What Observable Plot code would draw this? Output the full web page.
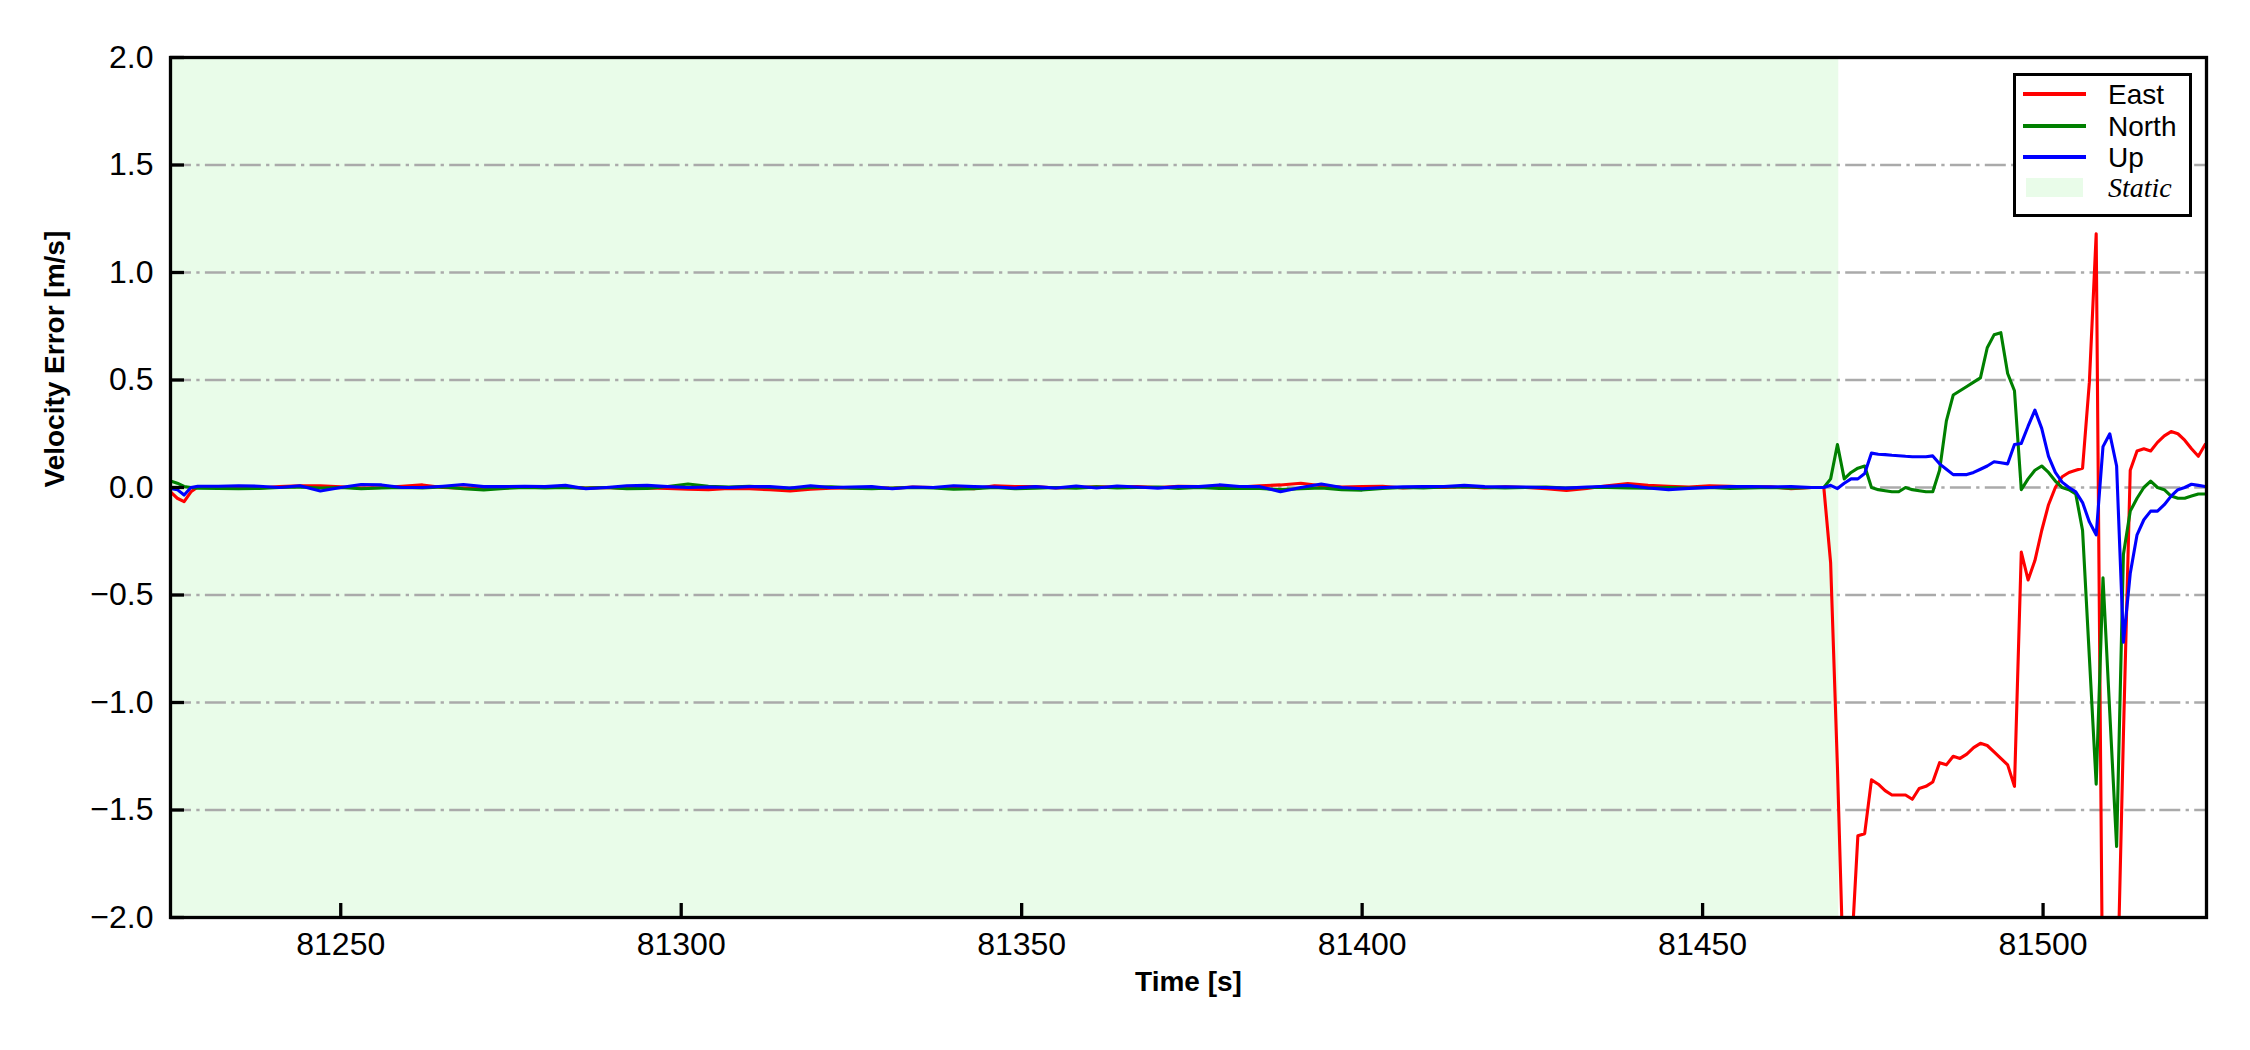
<!DOCTYPE html>
<html>
<head>
<meta charset="utf-8">
<script src="https://cdn.jsdelivr.net/npm/d3@7"></script>
<script src="https://cdn.jsdelivr.net/npm/@observablehq/plot@0.6"></script>
<style>
  html, body { margin: 0; padding: 0; background: #fff; }
  #wrap { position: relative; width: 2250px; height: 1050px; font-family: "Liberation Sans", Arial, sans-serif; }
  #legend { position: absolute; left: 2013px; top: 73px; width: 173px; height: 138px; border: 3px solid #000; background: #fff; }
  .lline { position: absolute; left: 2023px; width: 63px; height: 3.3px; }
  .ltext { position: absolute; left: 2108px; font-size: 28px; line-height: 28px; color: #000; white-space: nowrap; }
  .lpatch { position: absolute; left: 2026px; width: 57px; height: 19px; background: #e9fce9; }
</style>
</head>
<body>
<div id="wrap"></div>
<script>
// ---- data ----
const xDomain = [81225, 81524];
const yDomain = [-2, 2];
const xTicks = [81250, 81300, 81350, 81400, 81450, 81500];
const yTicks = [-2, -1.5, -1, -0.5, 0, 0.5, 1, 1.5, 2];
const gridValues = [-1.5, -1, -0.5, 0, 0.5, 1, 1.5];
const staticStart = 81225;
const staticEnd = 81470;
const seriesNames = ["East", "North", "Up"];
const seriesColors = ["#ff0000", "#008000", "#0000ff"];

const timeStatic = [
  81225, 81226, 81227, 81228, 81229, 81232, 81235, 81238, 81241, 81244,
  81247, 81250, 81253, 81256, 81259, 81262, 81265, 81268, 81271, 81274,
  81277, 81280, 81283, 81286, 81289, 81292, 81295, 81298, 81301, 81304,
  81307, 81310, 81313, 81316, 81319, 81322, 81325, 81328, 81331, 81334,
  81337, 81340, 81343, 81346, 81349, 81352, 81355, 81358, 81361, 81364,
  81367, 81370, 81373, 81376, 81379, 81382, 81385, 81388, 81391, 81394,
  81397, 81400, 81403, 81406, 81409, 81412, 81415, 81418, 81421, 81424,
  81427, 81430, 81433, 81436, 81439, 81442, 81445, 81448, 81451, 81454,
  81457, 81460, 81463, 81466
];
const eastStatic = [
  -0.02, -0.05, -0.066, -0.02, 0.002, 0.003, 0.0, -0.002, 0.004, 0.008,
  0.008, 0.003, -0.002, 0.0, 0.006, 0.012, 0.0, -0.003, -0.004, 0.002,
  0.0, 0.005, 0.002, -0.003, 0.0, -0.004, -0.002, -0.005, -0.008, -0.01,
  -0.004, -0.006, -0.01, -0.016, -0.008, -0.003, -0.002, 0.0, -0.004, 0.002,
  0.0, -0.002, -0.006, 0.008, 0.004, 0.005, -0.002, 0.0, 0.003, 0.002,
  0.004, 0.0, 0.006, 0.004, 0.005, 0.002, 0.008, 0.012, 0.02, 0.008,
  0.002, 0.005, 0.006, -0.002, 0.002, 0.0, 0.004, -0.002, 0.003, 0.0,
  -0.006, -0.014, -0.004, 0.008, 0.018, 0.01, 0.006, 0.002, 0.008, 0.006,
  0.002, 0.003, -0.006, 0.0
];
const northStatic = [
  0.03, 0.02, 0.005, 0.0, -0.003, -0.004, -0.006, -0.004, 0.0, 0.002,
  -0.002, 0.0, -0.006, -0.002, 0.0, -0.002, 0.003, -0.006, -0.011, -0.004,
  0.0, -0.002, 0.0, -0.003, 0.0, -0.006, -0.004, 0.005, 0.016, 0.006,
  0.002, 0.006, 0.0, -0.004, 0.0, 0.003, -0.003, -0.006, -0.002, 0.0,
  -0.002, -0.008, -0.006, 0.0, -0.006, -0.003, 0.0, -0.003, 0.003, -0.002,
  0.0, 0.002, -0.004, 0.0, -0.004, -0.003, -0.005, -0.01, -0.006, -0.002,
  -0.01, -0.012, -0.004, 0.0, -0.002, 0.002, 0.004, 0.0, -0.002, 0.0,
  0.002, -0.003, 0.0, 0.0, -0.002, -0.003, 0.0, -0.002, 0.0, -0.004,
  -0.002, 0.0, -0.003, 0.0
];
const upStatic = [
  -0.005, -0.01, -0.035, 0.0, 0.006, 0.006, 0.008, 0.006, 0.0, 0.008,
  -0.016, 0.0, 0.014, 0.012, 0.0, 0.0, 0.006, 0.014, 0.004, 0.004,
  0.006, 0.004, 0.01, -0.006, 0.0, 0.008, 0.01, 0.004, 0.0, 0.002,
  0.0, 0.004, 0.004, -0.002, 0.008, 0.0, 0.002, 0.004, -0.006, 0.002,
  0.0, 0.008, 0.004, 0.002, -0.002, 0.004, -0.002, 0.007, -0.002, 0.007,
  0.002, -0.003, 0.004, 0.004, 0.012, 0.005, 0.004, -0.02, 0.0, 0.016,
  0.0, -0.006, 0.0, 0.003, 0.004, 0.005, 0.01, 0.004, 0.003, 0.002,
  0.0, -0.003, 0.002, 0.006, 0.01, -0.002, -0.01, -0.004, 0.0, 0.004,
  0.005, 0.003, 0.004, 0.0
];

const timeMotion = [
  81467.8, 81468.8, 81469.8, 81470.8, 81471.8, 81472.8, 81473.8, 81474.8, 81475.8, 81476.8,
  81477.8, 81478.8, 81479.8, 81480.8, 81481.8, 81482.8, 81483.8, 81484.8, 81485.8, 81486.8,
  81487.8, 81488.8, 81489.8, 81490.8, 81491.8, 81492.8, 81493.8, 81494.8, 81495.8, 81496.8,
  81497.8, 81498.8, 81499.8, 81500.8, 81501.8, 81502.8, 81503.8, 81504.8, 81505.8, 81506.8,
  81507.8, 81508.8, 81509.8, 81510.8, 81511.8, 81512.8, 81513.8, 81514.8, 81515.8, 81516.8,
  81517.8, 81518.8, 81519.8, 81520.8, 81521.8, 81522.8, 81523.8
];
const eastMotion = [
  0.0, -0.35, -1.3, -2.4, -2.2, -1.62, -1.61, -1.36, -1.38, -1.41,
  -1.43, -1.43, -1.43, -1.45, -1.40, -1.39, -1.37, -1.28, -1.29, -1.25,
  -1.26, -1.24, -1.21, -1.19, -1.20, -1.23, -1.26, -1.29, -1.39, -0.30,
  -0.43, -0.34, -0.20, -0.08, 0.00, 0.05, 0.07, 0.08, 0.09, 0.49,
  1.18, -2.6, -3.5, -2.5, -1.15, 0.08, 0.17, 0.18, 0.17, 0.21,
  0.24, 0.26, 0.25, 0.22, 0.18, 0.145, 0.20
];
const northMotion = [
  0.0, 0.04, 0.20, 0.04, 0.07, 0.09, 0.10, 0.00, -0.01, -0.015,
  -0.02, -0.02, 0.00, -0.01, -0.015, -0.02, -0.02, 0.08, 0.31, 0.43,
  0.45, 0.47, 0.49, 0.51, 0.65, 0.71, 0.72, 0.53, 0.45, -0.01,
  0.04, 0.08, 0.10, 0.07, 0.03, 0.00, -0.01, -0.03, -0.20, -0.79,
  -1.38, -0.42, -1.05, -1.67, -0.31, -0.11, -0.05, 0.00, 0.03, 0.00,
  -0.01, -0.04, -0.05, -0.05, -0.04, -0.03, -0.03
];
const upMotion = [
  0.0, 0.01, -0.005, 0.02, 0.04, 0.04, 0.065, 0.16, 0.155, 0.153,
  0.15, 0.148, 0.145, 0.143, 0.143, 0.143, 0.147, 0.11, 0.085, 0.06,
  0.06, 0.06, 0.07, 0.085, 0.10, 0.12, 0.115, 0.11, 0.20, 0.205,
  0.285, 0.36, 0.275, 0.145, 0.07, 0.025, 0.0, -0.02, -0.07, -0.16,
  -0.22, 0.19, 0.25, 0.10, -0.72, -0.40, -0.22, -0.15, -0.11, -0.11,
  -0.08, -0.04, -0.01, 0.00, 0.015, 0.01, 0.005
];

// ---- build tables ----
const allTime = timeStatic.concat(timeMotion);
function rows(vals) { return allTime.map((t, i) => ({t, v: vals[i]})); }
const seriesData = [
  rows(eastStatic.concat(eastMotion)),
  rows(northStatic.concat(northMotion)),
  rows(upStatic.concat(upMotion))
];
const staticSpan = [{start: staticStart, end: staticEnd}];

const fontFam = '"Liberation Sans", Arial, sans-serif';
const W = 2250, H = 1050, mL = 170, mR = 44, mT = 57, mB = 133;
const tickLen = 14;
const frameW = W - mL - mR, frameH = H - mT - mB;

const chart = Plot.plot({
  width: W,
  height: H,
  marginLeft: mL,
  marginRight: mR,
  marginTop: mT,
  marginBottom: mB,
  style: {fontFamily: fontFam, fontSize: "32px", background: "white", color: "black"},
  x: {domain: xDomain},
  y: {domain: yDomain},
  marks: [
    Plot.rect(staticSpan, {x1: "start", x2: "end", fill: "#e9fce9"}),
    Plot.ruleY(gridValues, {stroke: "#aaaaaa", strokeWidth: 2.6, strokeDasharray: "21,5.3,3.3,5.3"}),
    ...seriesData.map((d, i) => Plot.line(d, {x: "t", y: "v", stroke: seriesColors[i], strokeWidth: 3.1, clip: true})),
    Plot.frame({stroke: "black", strokeWidth: 3.3}),
    // inward tick marks
    Plot.ruleX(xTicks, {x: d => d, stroke: "black", strokeWidth: 3.3, insetTop: frameH - tickLen}),
    Plot.ruleY(yTicks, {y: d => d, stroke: "black", strokeWidth: 3.3, insetRight: frameW - tickLen}),
    Plot.axisX({ticks: xTicks, tickFormat: d3.format("d"), tickSize: 0, tickPadding: 15, label: null, fontSize: 32}),
    Plot.axisY({ticks: yTicks, tickFormat: d3.format(".1f"), tickSize: 0, tickPadding: 17, label: null, fontSize: 32}),
    Plot.text(["Time [s]"], {text: d => d, frameAnchor: "bottom", dy: 73, fontWeight: "bold", fontSize: 28}),
    Plot.text(["Velocity Error [m/s]"], {text: d => d, frameAnchor: "left", dx: -115, rotate: -90, fontWeight: "bold", fontSize: 28})
  ]
});

const wrap = document.getElementById("wrap");
wrap.appendChild(chart);

// ---- legend ----
const legend = document.createElement("div");
legend.id = "legend";
wrap.appendChild(legend);
const rowY = [94, 126, 157];
seriesNames.forEach((name, i) => {
  const ln = document.createElement("div");
  ln.className = "lline";
  ln.style.top = (rowY[i] - 1.6) + "px";
  ln.style.background = seriesColors[i];
  wrap.appendChild(ln);
  const tx = document.createElement("div");
  tx.className = "ltext";
  tx.style.top = (rowY[i] - 13) + "px";
  tx.textContent = name;
  wrap.appendChild(tx);
});
const patch = document.createElement("div");
patch.className = "lpatch";
patch.style.top = "178px";
wrap.appendChild(patch);
const st = document.createElement("div");
st.className = "ltext";
st.style.top = "174px";
st.style.fontFamily = '"Liberation Serif", "Times New Roman", serif';
st.style.fontStyle = "italic";
st.textContent = "Static";
wrap.appendChild(st);
</script>
</body>
</html>
